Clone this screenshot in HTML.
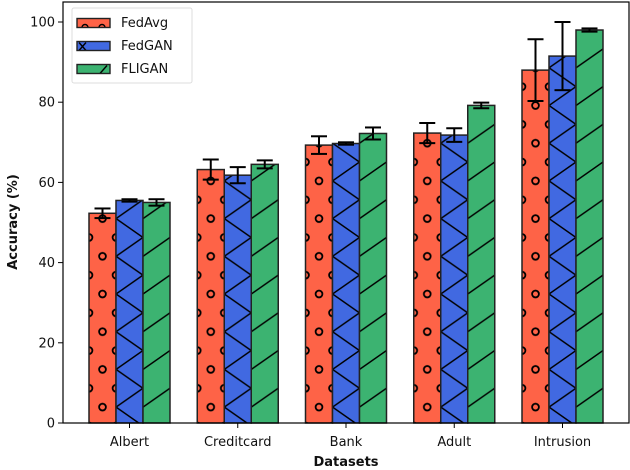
<!DOCTYPE html>
<html><head><meta charset="utf-8"><style>
html,body{margin:0;padding:0;background:#fff;}
svg{display:block;font-family:"DejaVu Sans","Liberation Sans",sans-serif;}
</style></head><body>
<svg id="chart" width="630" height="470" viewBox="0 0 630 470" xmlns="http://www.w3.org/2000/svg">
<defs id="defs"></defs>
<g id="bars"></g>
<g id="axes"></g>
</svg>
<script>
const categories = ["Albert","Creditcard","Bank","Adult","Intrusion"];
const seriesNames = ["FedAvg","FedGAN","FLIGAN"];
const fedAvg = [52.3,63.2,69.3,72.3,88.0];
const fedAvgErr = [1.2,2.5,2.2,2.5,7.7];
const fedGan = [55.5,61.8,69.7,71.8,91.5];
const fedGanErr = [0.3,2.0,0.3,1.7,8.5];
const fligan = [55.0,64.5,72.2,79.2,98.0];
const fliganErr = [0.8,1.0,1.5,0.7,0.4];
const yTicks = [0,20,40,60,80,100];

const NS="http://www.w3.org/2000/svg";
const svg=document.getElementById('chart');
const defs=document.getElementById('defs');
const barsG=document.getElementById('bars');
const axesG=document.getElementById('axes');
const L=63,R=629,T=2,B=423;
const x0=129.5,step=108.25,bw=27;
function yS(v){return B-v*(B-22)/100;}
function xC(i){return x0+i*step;}
function mk(tag,attrs,parent){const e=document.createElementNS(NS,tag);for(const k in attrs)e.setAttribute(k,attrs[k]);(parent||svg).appendChild(e);return e;}
const colors=["#fe6347","#4169e1","#3cb371"];
const P=37.7,H=P/2;
function makePattern(id,s,x){
  const p=mk('pattern',{id:id,patternUnits:'userSpaceOnUse',x:x,y:294-H,width:bw,height:P},defs);
  mk('rect',{x:0,y:0,width:bw,height:P,fill:colors[s]},p);
  if(s===0){
    [[bw/2,H],[0,0],[bw,0],[0,P],[bw,P]].forEach(c=>mk('circle',{cx:c[0],cy:c[1],r:3.4,fill:'none',stroke:'#000','stroke-width':1.8},p));
  }else if(s===1){
    mk('path',{d:`M0 ${H} L${bw} 0 M0 ${H} L${bw} ${P} M0 ${-H} L${bw} 0 M0 ${P+H} L${bw} ${P}`,stroke:'#000','stroke-width':1.5,fill:'none'},p);
  }else{
    mk('path',{d:`M0 ${H} L${bw} 0 M0 ${P+H} L${bw} ${P}`,stroke:'#000','stroke-width':1.5,fill:'none'},p);
  }
  return id;
}
const vals=[fedAvg,fedGan,fligan],errs=[fedAvgErr,fedGanErr,fliganErr];
categories.forEach((c,i)=>{
  for(let s=0;s<3;s++){
    const x=xC(i)+(s-1)*bw-bw/2;
    const pid=makePattern('p'+i+'_'+s,s,x);
    const r=mk('rect',{x:x,y:yS(vals[s][i]),width:bw,height:B-yS(vals[s][i]),fill:`url(#${pid})`,stroke:'#222','stroke-width':1.5},barsG);
    
    
  }
});
categories.forEach((c,i)=>{
  for(let s=0;s<3;s++){
    const cx=xC(i)+(s-1)*bw,v=vals[s][i],e=errs[s][i];
    const g=mk('g',{stroke:'#000','stroke-width':2},barsG);
    
    
    mk('line',{x1:cx,x2:cx,y1:yS(v-e),y2:yS(v+e)},g);
    mk('line',{x1:cx-8,x2:cx+8,y1:yS(v-e),y2:yS(v-e)},g);
    mk('line',{x1:cx-8,x2:cx+8,y1:yS(v+e),y2:yS(v+e)},g);
  }
});
const frame=mk('rect',{x:L,y:T,width:R-L,height:B-T,fill:'none',stroke:'#000','stroke-width':1.2},axesG);


yTicks.forEach(t=>{
  const y=yS(t);
  mk('line',{x1:L-5,x2:L,y1:y,y2:y,stroke:'#000','stroke-width':1},axesG);
  const tx=mk('text',{x:L-8,y:y+4.5,'text-anchor':'end','font-size':13,fill:'#111'},axesG);
  tx.textContent=t;
  
  
});
categories.forEach((c,i)=>{
  const x=xC(i);
  mk('line',{x1:x,x2:x,y1:B,y2:B+5,stroke:'#000','stroke-width':1},axesG);
  const tx=mk('text',{x:x,y:446,'text-anchor':'middle','font-size':13,fill:'#111'},axesG);
  tx.textContent=c;
  
  
});
const xt=mk('text',{x:346,y:466,'text-anchor':'middle','font-size':13,'font-weight':'bold',fill:'#111'},axesG);
xt.textContent='Datasets';


const yt=mk('text',{x:0,y:0,'text-anchor':'middle','font-size':13,'font-weight':'bold',fill:'#111',transform:'translate(17,222) rotate(-90)'},axesG);
yt.textContent='Accuracy (%)';


const lg=mk('g',{},axesG);


mk('rect',{x:72,y:8,width:120,height:75,rx:2,fill:'#fff','fill-opacity':0.8,stroke:'#ddd','stroke-width':1},lg);
seriesNames.forEach((n,s)=>{
  const cy=22.5+s*23;
  const pid='lp'+s;
  const p=mk('pattern',{id:pid,patternUnits:'userSpaceOnUse',x:77,y:cy-4,width:33,height:9},defs);
  mk('rect',{x:0,y:0,width:33,height:9,fill:colors[s]},p);
  if(s===0){mk('circle',{cx:8,cy:9,r:3,fill:'none',stroke:'#000','stroke-width':1.4},p);mk('circle',{cx:25,cy:9,r:3,fill:'none',stroke:'#000','stroke-width':1.4},p);}
  else if(s===1){mk('path',{d:'M2 1 L9 9 M2 9 L9 1',stroke:'#000','stroke-width':1.4},p);}
  else{mk('path',{d:'M23 9 L30 1',stroke:'#000','stroke-width':1.4},p);}
  const e=mk('g',{},lg);
  
  
  mk('rect',{x:77,y:cy-4,width:33,height:9,fill:`url(#${pid})`,stroke:'#222','stroke-width':1.4},e);
  const t=mk('text',{x:121,y:cy+4.5,'font-size':13,fill:'#111'},e);
  t.textContent=n;
});
</script>
</body></html>
